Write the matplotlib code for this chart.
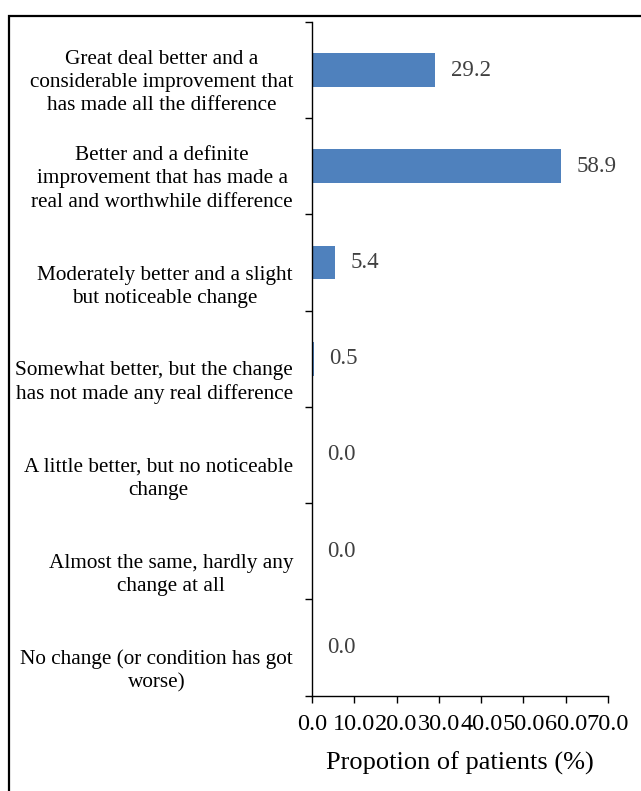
import matplotlib
matplotlib.use("Agg")
import matplotlib.pyplot as plt
from matplotlib.patches import Rectangle
from matplotlib.transforms import blended_transform_factory

plt.rcParams['font.family'] = ['Liberation Serif', 'DejaVu Serif']

categories = [
    "Great deal better and a\nconsiderable improvement that\nhas made all the difference",
    "Better and a definite\nimprovement that has made a\nreal and worthwhile difference",
    "Moderately better and a slight\nbut noticeable change",
    "Somewhat better, but the change\nhas not made any real difference",
    "A little better, but no noticeable\nchange",
    "Almost the same, hardly any\nchange at all",
    "No change (or condition has got\nworse)",
]
values = [29.2, 58.9, 5.4, 0.5, 0.0, 0.0, 0.0]
xticks = [0, 10, 20, 30, 40, 50, 60, 70]

fig = plt.figure(figsize=(6.41, 7.91), dpi=100)
ax = fig.add_axes([0.4867, 0.1207, 0.4618, 0.8515])

pos = list(range(len(categories)))
ax.barh(pos, values, height=0.35, color='#4F81BD')
ax.set_ylim(len(categories) - 0.5, -0.5)
ax.set_xlim(0, 70)

# value labels
for p, v in zip(pos, values):
    ax.annotate(f"{v:.1f}", (v, p), xytext=(11, 0), textcoords='offset points',
                va='center', ha='left', fontsize=16.5, color='#404040')

# category labels, bottom aligned inside each band
tr = blended_transform_factory(ax.transAxes, ax.transData)
for p, c in zip(pos, categories):
    ax.text(-0.064, p + 0.47, c, transform=tr, ha='right', va='bottom',
            multialignment='center', fontsize=15.3, linespacing=1.3)

ax.set_yticks([i - 0.5 for i in range(len(categories) + 1)])
ax.set_yticklabels([])
ax.tick_params(axis='y', length=5, width=1, direction='out')
ax.set_xticks(xticks)
ax.set_xticklabels([f"{t:.1f}" for t in xticks], fontsize=17.5)
ax.tick_params(axis='x', length=5, width=1, direction='out', pad=8)
ax.set_xlabel("Propotion of patients (%)", fontsize=19, labelpad=12)

for s in ['top', 'right']:
    ax.spines[s].set_visible(False)
for s in ['left', 'bottom']:
    ax.spines[s].set_linewidth(1)

# outer frame (only top and left visible in the image)
fig.patches.append(Rectangle((9 / 641, -0.1), 1.2, 1 - 15.5 / 791 + 0.1,
                             transform=fig.transFigure, fill=False,
                             edgecolor='black', linewidth=1.6))

fig.savefig("out.png", dpi=100)
